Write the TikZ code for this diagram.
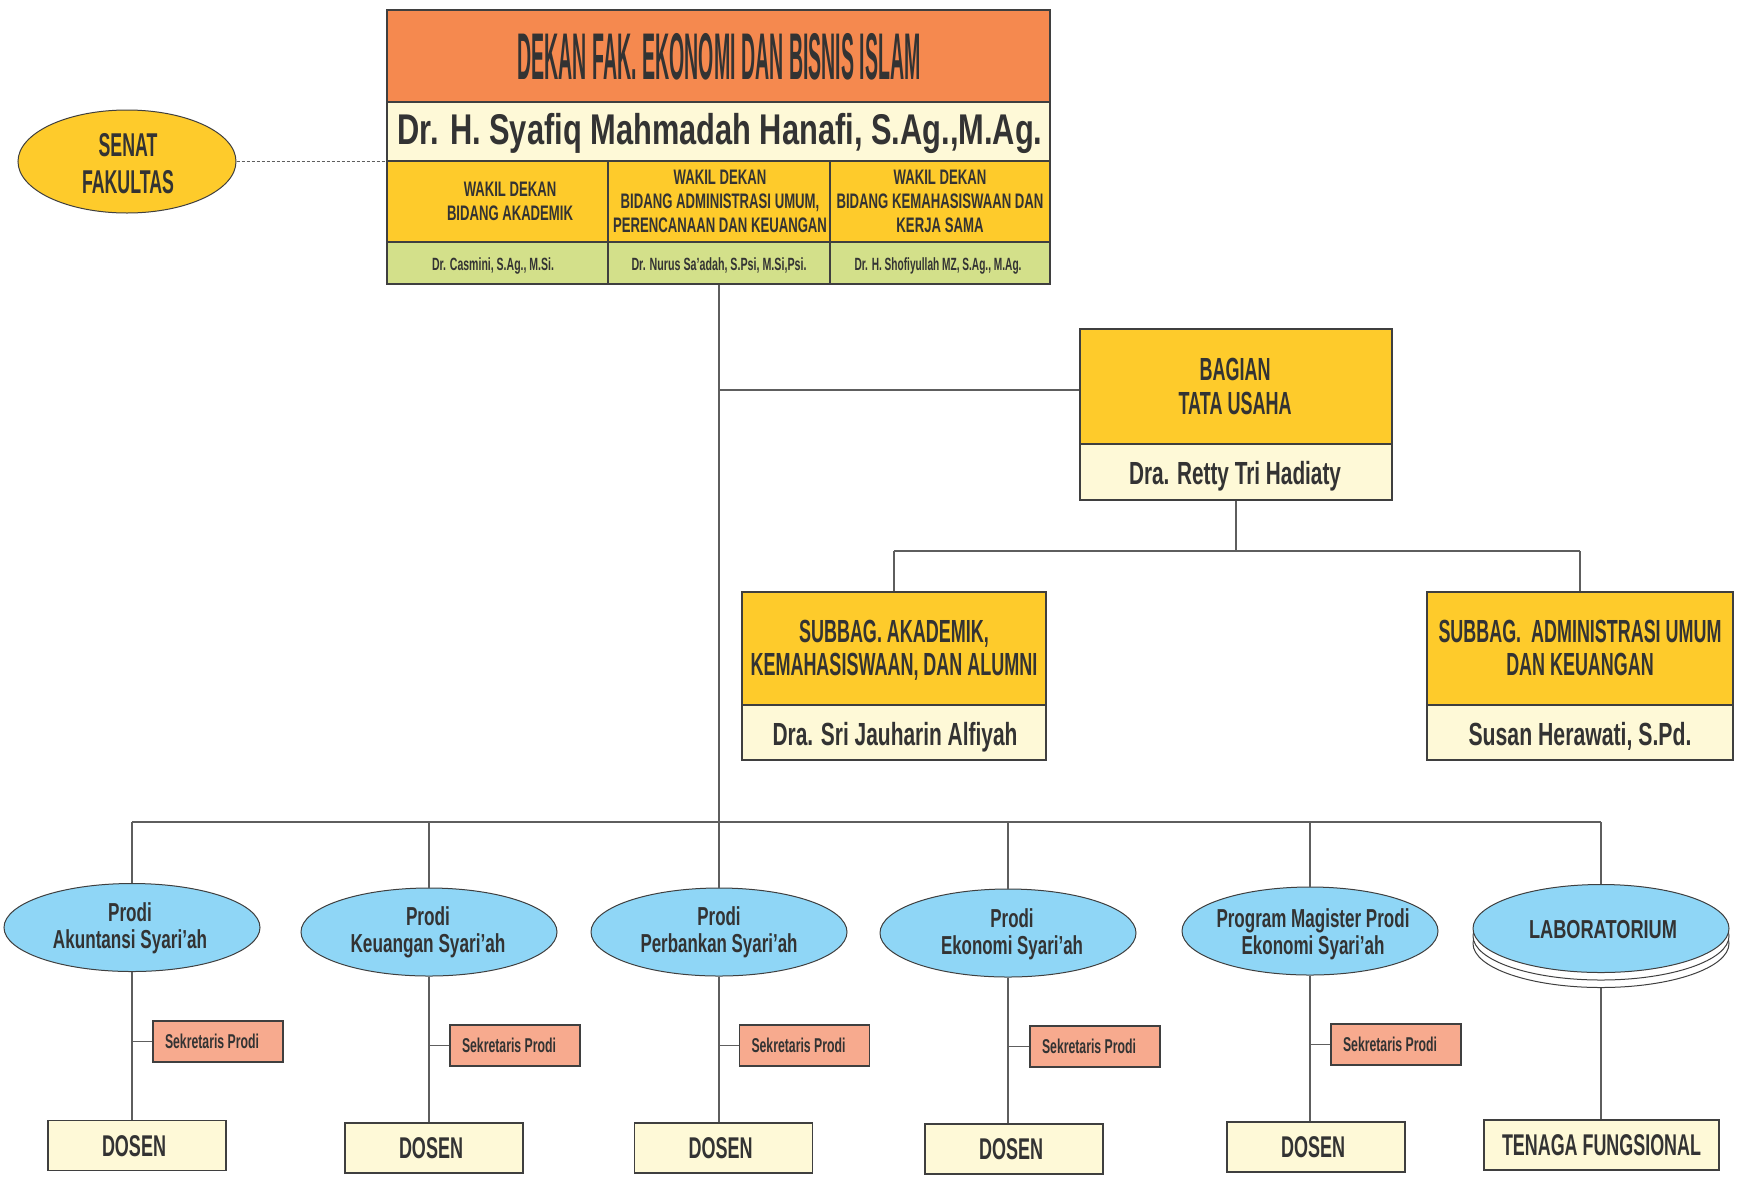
\documentclass[tikz,border=0pt]{standalone}
\usepackage{fontspec}
\setmainfont{Liberation Sans}
\usepackage{graphicx}
\usetikzlibrary{shapes.geometric}
\definecolor{cOr}{HTML}{F5894F}
\definecolor{cCr}{HTML}{FEF9D7}
\definecolor{cYe}{HTML}{FECB2B}
\definecolor{cGr}{HTML}{D3E08A}
\definecolor{cBl}{HTML}{8FD6F6}
\definecolor{cSa}{HTML}{F7AA8E}
\definecolor{cTx}{HTML}{333333}
\definecolor{cBd}{HTML}{3F3F3F}
\definecolor{cLn}{HTML}{5E5E5E}
% #1 width of widest line, #2 font size, #3 line pitch, #4 lines; box spans cap top of first line to last baseline
\newcommand\T[4]{\resizebox{#1pt}{\height}{\fontsize{#2pt}{#3pt}\selectfont\bfseries
  \setbox0=\hbox{\begin{tabular}[b]{@{}c@{}}#4\end{tabular}}%
  \raisebox{0pt}[\dimexpr\ht0-0.7\baselineskip+0.716\dimexpr#2pt\relax\relax][0pt]{\copy0}}}
\begin{document}
\begin{tikzpicture}[x=1pt,y=-1pt,
  box/.style={draw=cBd, line width=1.2pt, rectangle, inner sep=0pt},
  ell/.style={draw=cBd, line width=1pt, ellipse, inner sep=0pt, fill=cBl, minimum width=256pt, minimum height=88pt},
  conn/.style={draw=cLn, line width=1.3pt},
  lbl/.style={inner sep=0pt, text=cTx},
  sek/.style={box, fill=cSa, minimum width=130pt, minimum height=41pt, text=cTx},
  dos/.style={box, fill=cCr, minimum width=178pt, minimum height=50pt, text=cTx}]
\useasboundingbox (0,0) rectangle (1739,1176);
\fill[white] (0,0) rectangle (1739,1176);

% ---- top block ----
\node[box, fill=cOr, minimum width=663pt, minimum height=92pt] (dekan) at (718.5,56) {};
\node[box, fill=cCr, minimum width=663pt, minimum height=59pt] (nama) at (718.5,131.5) {};
\node[box, fill=cYe, minimum width=221pt, minimum height=81pt] (w1) at (497.5,201.5) {};
\node[box, fill=cYe, minimum width=222pt, minimum height=81pt] (w2) at (719,201.5) {};
\node[box, fill=cYe, minimum width=220pt, minimum height=81pt] (w3) at (940,201.5) {};
\node[box, fill=cGr, minimum width=221pt, minimum height=42pt] (n1) at (497.5,263) {};
\node[box, fill=cGr, minimum width=222pt, minimum height=42pt] (n2) at (719,263) {};
\node[box, fill=cGr, minimum width=220pt, minimum height=42pt] (n3) at (940,263) {};

\node[lbl] (tdekan) at (719,56.3) {\T{403}{66}{66}{DEKAN FAK. EKONOMI DAN BISNIS ISLAM}};
\node[lbl] (tnama) at (720,129) {\T{645}{43}{43}{Dr. H. Syafiq Mahmadah Hanafi, S.Ag.,M.Ag.}};
\node[lbl] (tw1) at (510,201) {\T{126}{21}{23.7}{WAKIL DEKAN\\BIDANG AKADEMIK}};
\node[lbl] (tw2) at (720,201) {\T{214}{21}{23.7}{WAKIL DEKAN\\BIDANG ADMINISTRASI UMUM,\\PERENCANAAN DAN KEUANGAN}};
\node[lbl] (tw3) at (940,201) {\T{207}{21}{23.7}{WAKIL DEKAN\\BIDANG KEMAHASISWAAN DAN\\KERJA SAMA}};
\node[lbl] (tn1) at (493,263.7) {\T{122}{17.7}{18}{Dr. Casmini, S.Ag., M.Si.}};
\node[lbl] (tn2) at (719,263.7) {\T{175}{17.7}{18}{Dr. Nurus Sa’adah, S.Psi, M.Si,Psi.}};
\node[lbl] (tn3) at (938,263.7) {\T{167}{17.7}{18}{Dr. H. Shofiyullah MZ, S.Ag., M.Ag.}};

% ---- senat ----
\node[draw=cBd, line width=1pt, ellipse, fill=cYe, minimum width=218pt, minimum height=103pt, inner sep=0pt] (senat) at (127,161.5) {};
\node[lbl] (tsenat) at (128,163.5) {\T{92}{33}{36.7}{SENAT\\FAKULTAS}};

% ---- tata usaha ----
\node[box, fill=cYe, minimum width=312pt, minimum height=115pt] (tu) at (1236,386.5) {};
\node[box, fill=cCr, minimum width=312pt, minimum height=56pt] (tun) at (1236,472) {};
\node[lbl] (ttu) at (1235,386.5) {\T{113}{32}{34}{BAGIAN\\TATA USAHA}};
\node[lbl] (ttun) at (1235,472.5) {\T{212}{32}{32}{Dra. Retty Tri Hadiaty}};

\node[box, fill=cYe, minimum width=304pt, minimum height=113pt] (sa) at (894,648.5) {};
\node[box, fill=cCr, minimum width=304pt, minimum height=55pt] (san) at (894,732.5) {};
\node[lbl] (tsa) at (894,647.6) {\T{287}{32}{33}{SUBBAG. AKADEMIK,\\KEMAHASISWAAN, DAN ALUMNI}};
\node[lbl] (tsan) at (895,734) {\T{245}{32}{32}{Dra. Sri Jauharin Alfiyah}};

\node[box, fill=cYe, minimum width=306pt, minimum height=113pt] (sau) at (1580,648.5) {};
\node[box, fill=cCr, minimum width=306pt, minimum height=55pt] (saun) at (1580,732.5) {};
\node[lbl] (tsau) at (1580,647.6) {\T{283}{32}{33}{SUBBAG.\ \ ADMINISTRASI UMUM\\DAN KEUANGAN}};
\node[lbl] (tsaun) at (1580,734) {\T{223}{32}{32}{Susan Herawati, S.Pd.}};

% ---- prodi ----
\node[ell] (e1) at (132,927.5) {};
\node[ell] (e2) at (429,932) {};
\node[ell] (e3) at (719,932) {};
\node[ell] (e4) at (1008,933) {};
\node[ell] (e5) at (1310,931) {};
\node[ell, fill=white] (lab3) at (1601,943.5) {};
\node[ell, fill=white] (lab2) at (1601,936) {};
\node[ell] (lab) at (1601,928.5) {};
\node[lbl] (te1) at (130,926) {\T{154}{26}{27}{Prodi\\Akuntansi Syari’ah}};
\node[lbl] (te2) at (428,929.5) {\T{155}{26}{27}{Prodi\\Keuangan Syari’ah}};
\node[lbl] (te3) at (719,929.5) {\T{157}{26}{27}{Prodi\\Perbankan Syari’ah}};
\node[lbl] (te4) at (1012,931.5) {\T{142}{26}{27}{Prodi\\Ekonomi Syari’ah}};
\node[lbl] (te5) at (1313,931.5) {\T{193}{26}{27}{Program Magister Prodi\\Ekonomi Syari’ah}};
\node[lbl] (tlab) at (1603,929) {\T{148}{26}{26}{LABORATORIUM}};

\node[sek] (s1) at (218,1041.5) {\T{94}{20}{20}{Sekretaris Prodi}\rule{12pt}{0pt}};
\node[sek] (s2) at (515,1045.5) {\T{94}{20}{20}{Sekretaris Prodi}\rule{12pt}{0pt}};
\node[sek] (s3) at (804.5,1045.5) {\T{94}{20}{20}{Sekretaris Prodi}\rule{12pt}{0pt}};
\node[sek] (s4) at (1095,1046.5) {\T{94}{20}{20}{Sekretaris Prodi}\rule{12pt}{0pt}};
\node[sek] (s5) at (1396,1044.5) {\T{94}{20}{20}{Sekretaris Prodi}\rule{12pt}{0pt}};

\node[dos] (d1) at (137,1145.5) {\T{64}{30}{30}{DOSEN}\rule{6pt}{0pt}};
\node[dos] (d2) at (434,1148) {\T{64}{30}{30}{DOSEN}\rule{6pt}{0pt}};
\node[dos] (d3) at (723.5,1148) {\T{64}{30}{30}{DOSEN}\rule{6pt}{0pt}};
\node[dos] (d4) at (1014,1149) {\T{64}{30}{30}{DOSEN}\rule{6pt}{0pt}};
\node[dos] (d5) at (1316,1147) {\T{64}{30}{30}{DOSEN}\rule{6pt}{0pt}};
\node[dos, minimum width=235pt] (tf) at (1601.5,1145) {\T{199}{30}{30}{TENAGA FUNGSIONAL}};

% ---- connectors ----
\draw[cLn, line width=1pt, dash pattern=on 3pt off 2pt] (senat.east) -- (senat.east -| nama.west);
\coordinate (hub) at (719,822);
\coordinate (tuh) at (719,390);
\coordinate (tuj) at (1236,551);
\draw[conn] (n2.south) -- (hub);
\draw[conn] (tuh) -- (tuh -| tu.west);
\draw[conn] (tun.south) -- (tuj);
\draw[conn] (sa.north |- tuj) -- (sau.north |- tuj);
\draw[conn] (sa.north |- tuj) -- (sa.north);
\draw[conn] (sau.north |- tuj) -- (sau.north);
\draw[conn] (e1.north |- hub) -- (lab.north |- hub);
\foreach \n in {e1,e2,e3,e4,e5,lab} \draw[conn] (\n.north |- hub) -- (\n.north);
\foreach \e/\s/\d in {e1/s1/d1,e2/s2/d2,e3/s3/d3,e4/s4/d4,e5/s5/d5} {
  \draw[conn] (\e.south) -- (\e.south |- \d.north);
  \draw[conn] (\e.south |- \s.west) -- (\s.west);
}
\draw[conn] (lab3.south) -- (lab3.south |- tf.north);
\end{tikzpicture}
\end{document}
